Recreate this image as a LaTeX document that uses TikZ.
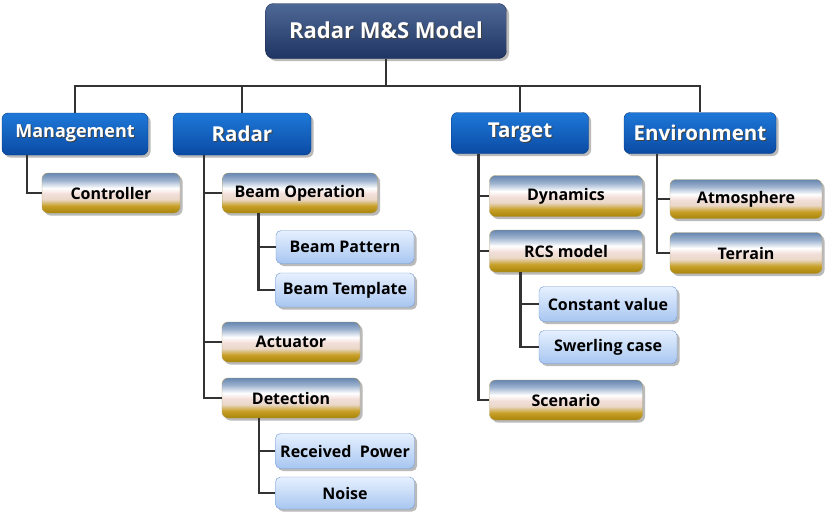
\documentclass[tikz,border=0pt]{standalone}
\usepackage{fontspec}
\setmainfont{Open Sans}
\usetikzlibrary{shadows,calc}
\definecolor{navytop}{HTML}{4E6896}
\definecolor{navybot}{HTML}{1F3563}
\definecolor{bluetop}{HTML}{1E78D8}
\definecolor{bluebot}{HTML}{0A4BA4}
\definecolor{ltop}{HTML}{E6F0FF}
\definecolor{lbot}{HTML}{A8C6F0}
\definecolor{lborder}{HTML}{7098D4}
\definecolor{goldA}{HTML}{A88408}
\definecolor{goldB}{HTML}{C8A028}
\definecolor{pinkA}{HTML}{EAD8C8}
\definecolor{pinkB}{HTML}{F2DEDA}
\definecolor{slateA}{HTML}{9DB2CE}
\definecolor{slateB}{HTML}{6686B0}
\definecolor{linec}{HTML}{333333}
\pgfdeclareverticalshading{goldbar}{100bp}{color(0bp)=(goldA); color(25bp)=(goldA); color(34bp)=(goldB); color(42bp)=(pinkA); color(49bp)=(pinkB); color(56bp)=(white); color(66bp)=(slateA); color(75bp)=(slateB); color(100bp)=(slateB)}
\newcommand\shtext[1]{\makebox[0pt][l]{\hspace{1pt}\raisebox{-1pt}{\color{black!75}#1}}#1}
\tikzset{
  base/.style={inner sep=0pt, align=center,
    drop shadow={shadow xshift=2.5pt, shadow yshift=-2.5pt, fill=black!45, opacity=0.6}},
  topbox/.style={base, rounded corners=8pt, draw=navybot!80!black, top color=navytop, bottom color=navybot,
    text=white, font=\bfseries\fontsize{22}{26}\selectfont},
  bluebox/.style={base, rounded corners=6pt, draw=bluebot!80!black, top color=bluetop, bottom color=bluebot,
    text=white, font=\bfseries\fontsize{20.5}{24}\selectfont},
  goldbox/.style={base, rounded corners=6pt, draw=goldA!70!black!60, shading=goldbar,
    text=black, font=\bfseries\fontsize{16}{19}\selectfont},
  ltbox/.style={base, rounded corners=5pt, draw=lborder, top color=ltop, bottom color=lbot,
    text=black, font=\bfseries\fontsize{16}{19}\selectfont},
  conn/.style={draw=linec, line width=2.4pt},
}
\begin{document}
\begin{tikzpicture}[x=1pt,y=-1pt]
\useasboundingbox (0,0) rectangle (827,517);
\fill[white] (0,0) rectangle (827,517);
% top
\node[topbox, minimum width=241pt, minimum height=55pt] (top) at (386,31) {\shtext{Radar M\&S Model}};
% level 1
\node[bluebox, minimum width=146pt, minimum height=42pt, font=\bfseries\fontsize{18}{22}\selectfont] (mgmt) at (75,134) {\shtext{Management}};
\node[bluebox, minimum width=138pt, minimum height=42pt] (radar) at (242,134) {\shtext{Radar}};
\node[bluebox, minimum width=137pt, minimum height=41pt] (target) at (520,133) {\shtext{Target}};
\node[bluebox, minimum width=152pt, minimum height=41pt] (env) at (700,133) {\shtext{Environment}};
% level 2 (gold)
\node[goldbox, minimum width=138pt, minimum height=40pt] (ctrl) at (111,193) {Controller};
\node[goldbox, minimum width=155pt, minimum height=40pt] (beamop) at (300,193) {Beam Operation};
\node[goldbox, minimum width=138pt, minimum height=40pt] (act) at (291,342) {Actuator};
\node[goldbox, minimum width=138pt, minimum height=40pt] (det) at (291,398) {Detection};
\node[goldbox, minimum width=153pt, minimum height=41pt] (dyn) at (566,196) {Dynamics};
\node[goldbox, minimum width=153pt, minimum height=42pt] (rcs) at (566,251) {RCS model};
\node[goldbox, minimum width=153pt, minimum height=40pt] (scen) at (566,400) {Scenario};
\node[goldbox, minimum width=152pt, minimum height=39pt] (atm) at (746,199) {Atmosphere};
\node[goldbox, minimum width=152pt, minimum height=41pt] (terr) at (746,253) {Terrain};
% level 3 (light blue)
\node[ltbox, minimum width=138pt, minimum height=33pt] (bpat) at (345,247) {Beam Pattern};
\node[ltbox, minimum width=139pt, minimum height=34pt] (btmp) at (345,290) {Beam Template};
\node[ltbox, minimum width=139pt, minimum height=35pt] (rpow) at (345,451) {Received\ \ Power};
\node[ltbox, minimum width=139pt, minimum height=32pt] (noise) at (345,493) {Noise};
\node[ltbox, minimum width=138pt, minimum height=35pt] (cval) at (608,304) {Constant value};
\node[ltbox, minimum width=138pt, minimum height=33pt] (swer) at (608,347) {Swerling case};
% connectors
\coordinate (bus) at (0,86);
\draw[conn] (top.south) -- (top.south |- bus) -| (mgmt.north);
\draw[conn] (top.south |- bus) -| (radar.north);
\draw[conn] (top.south |- bus) -| (target.north);
\draw[conn] (top.south |- bus) -| (env.north);
\coordinate (mt) at ($(mgmt.south west)+(25,0)$);
\draw[conn] (mt) |- (ctrl.west);
\coordinate (rt) at ($(radar.south west)+(31,0)$);
\draw[conn] (rt) |- (beamop.west);
\draw[conn] (rt) |- (act.west);
\draw[conn] (rt) |- (det.west);
\coordinate (bt) at ($(beamop.south west)+(36,0)$);
\draw[conn] (bt) |- (bpat.west);
\draw[conn] (bt) |- (btmp.west);
\coordinate (dt) at ($(det.south west)+(37,0)$);
\draw[conn] (dt) |- (rpow.west);
\draw[conn] (dt) |- (noise.west);
\coordinate (tt) at ($(target.south west)+(27,0)$);
\draw[conn] (tt) |- (dyn.west);
\draw[conn] (tt) |- (rcs.west);
\draw[conn] (tt) |- (scen.west);
\coordinate (ct) at ($(rcs.south west)+(31,0)$);
\draw[conn] (ct) |- (cval.west);
\draw[conn] (ct) |- (swer.west);
\coordinate (et) at ($(env.south west)+(33,0)$);
\draw[conn] (et) |- (atm.west);
\draw[conn] (et) |- (terr.west);
\end{tikzpicture}
\end{document}
